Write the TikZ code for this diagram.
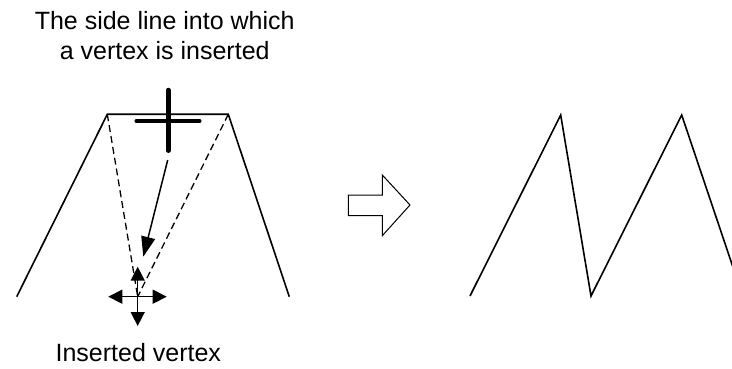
\documentclass[tikz,border=0pt]{standalone}
\usepackage{fontspec}
\setmainfont{Liberation Sans}
\usetikzlibrary{arrows.meta,positioning}

\begin{document}
\begin{tikzpicture}[
    x=1pt, y=-1pt,
    edge/.style={line width=1.6pt, line join=miter},
    guide/.style={line width=1.3pt, dash pattern=on 7pt off 4pt},
    marker/.style={line width=4.5pt, line cap=round},
    pull/.style={-{Triangle[length=20pt,width=14pt]}, line width=1.5pt},
    nudge/.style={-{Triangle[length=14pt,width=14pt]}, line width=1.5pt},
    caption/.style={font=\fontsize{25}{30}\selectfont, align=center, inner sep=0pt},
    hollow/.style={draw, line width=1pt, fill=white}
]
\useasboundingbox (0,0) rectangle (732,369);
\clip (0,0) rectangle (732,369);

% polygon before insertion
\coordinate (lb) at (16.7,296.7);
\coordinate (lt) at (107.3,114.3);
\coordinate (rt) at (228.3,114.3);
\coordinate (rb) at (289.3,296.7);
\coordinate (vx) at (137.7,296.7);
\coordinate (mk) at (168.3,121);
\coordinate (ps) at (167.7,160);
\coordinate (pe) at (143.3,256.7);

\draw[edge] (lb) -- (lt) -- (rt) -- (rb);
\draw[guide] (lt) -- (vx);
\draw[guide] (rt) -- (vx);
\draw[marker] (mk) ++(-31.6,0) -- ++(62.6,0);
\draw[marker] (mk) ++(0,-31) -- ++(0,60.7);
\draw[pull] (ps) -- (pe);
\foreach \d in {(-29.4,0),(29,0),(0,-30),(0,29.3)}
    \draw[nudge] (vx) -- ++\d;

\node[caption, anchor=base] (side) at (164.7,60) {The side line into which\\a vertex is inserted};
\node[caption, anchor=base] (inserted) at (138.3,361.7) {Inserted vertex};

% block arrow
\draw[hollow] (348.3,195) -- (382.3,195) -- (382.3,175) -- (410,205)
    -- (382.3,235.7) -- (382.3,215.7) -- (348.3,215.7) -- cycle;

% polygon after insertion
\coordinate (a1) at (470,296);
\coordinate (a2) at (560.7,115);
\coordinate (a3) at (591,296);
\coordinate (a4) at (681.7,115);
\coordinate (a5) at (742.7,296);
\draw[edge] (a1) -- (a2) -- (a3) -- (a4) -- (a5);
\end{tikzpicture}
\end{document}
